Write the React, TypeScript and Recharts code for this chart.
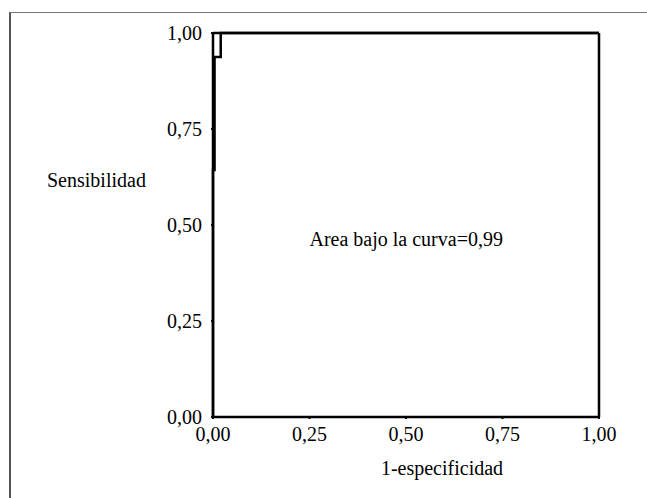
import { LineChart, Line, XAxis, YAxis, ReferenceDot, ReferenceLine } from "recharts";

// curva ROC (1-especificidad, sensibilidad)
const especificidad1 = [0, 0, 0.004, 0.004, 0.02, 0.02, 1];
const sensibilidad = [0, 0.643, 0.643, 0.9375, 0.9375, 1, 1];
const ticks = [0, 0.25, 0.5, 0.75, 1];
const areaTexto = "Area bajo la curva=0,99";

const data = especificidad1.map((x, i) => ({ x, y: sensibilidad[i] }));

const fmt = (v: number) => v.toFixed(2).replace(".", ",");
const font = "Liberation Serif";
const fs = 20;
const lw = 2.5;

export default function App() {
  return (
    <div style={{ position: "absolute", left: 0, top: 0, width: 647, height: 498, background: "#fff" }}>
      <div
        style={{
          position: "absolute",
          left: 9,
          top: 12,
          width: 660,
          height: 500,
          borderLeft: "2px solid #555",
          borderTop: "1px solid #777",
        }}
      />
      <LineChart
        width={647}
        height={498}
        data={data}
        margin={{ top: 33, right: 48, bottom: 41, left: 0 }}
        style={{ position: "absolute", left: 0, top: 0, fontFamily: font }}
      >
        <XAxis
          dataKey="x"
          type="number"
          domain={[0, 1]}
          ticks={ticks}
          tickFormatter={fmt}
          height={40}
          axisLine={{ stroke: "#000", strokeWidth: lw }}
          tickLine={{ stroke: "#000", strokeWidth: 2 }}
          tickSize={2}
          tick={{ fill: "#000", fontSize: fs, fontFamily: font, dy: 6 }}
          label={({ viewBox }: any) => (
            <text x={viewBox.x + 229} y={viewBox.y + 58} textAnchor="middle" fontSize={fs} fontFamily={font} fill="#000">
              1-especificidad
            </text>
          )}
        />
        <YAxis
          type="number"
          domain={[0, 1]}
          ticks={ticks}
          tickFormatter={fmt}
          width={213}
          axisLine={{ stroke: "#000", strokeWidth: lw }}
          tickLine={{ stroke: "#000", strokeWidth: 2 }}
          tickSize={2}
          tick={{ fill: "#000", fontSize: fs, fontFamily: font, dx: -7 }}
          label={({ viewBox }: any) => (
            <text x={47} y={viewBox.y + 154} textAnchor="start" fontSize={fs} fontFamily={font} fill="#000">
              Sensibilidad
            </text>
          )}
        />
        <ReferenceLine x={1} stroke="#000" strokeWidth={lw} />
        <ReferenceLine y={1} stroke="#000" strokeWidth={lw} />
        <Line
          dataKey="y"
          type="linear"
          stroke="#000"
          strokeWidth={lw}
          dot={false}
          isAnimationActive={false}
        />
        <ReferenceDot
          x={0.25}
          y={0.445}
          r={0}
          label={({ viewBox }: any) => (
            <text x={viewBox.x} y={viewBox.y} textAnchor="start" fontSize={fs} fontFamily={font} fill="#000">
              {areaTexto}
            </text>
          )}
        />
      </LineChart>
    </div>
  );
}
